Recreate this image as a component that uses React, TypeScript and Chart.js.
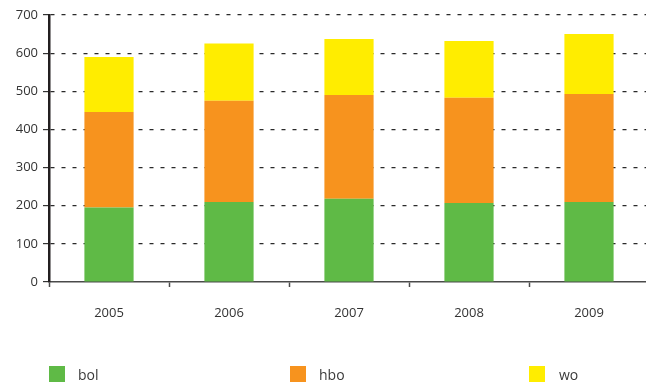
import React, { useEffect, useRef } from "react";
import { Chart, registerables } from "chart.js";

Chart.register(...registerables);

const years = ["2005", "2006", "2007", "2008", "2009"];
const bol = [195, 210, 218, 207, 210];
const hbo = [251, 265, 272, 276, 283];
const wo = [144, 150, 147, 149, 157];
const yTicks = [0, 100, 200, 300, 400, 500, 600, 700];

const seriesNames = ["bol", "hbo", "wo"];
const seriesColors = ["#5fba46", "#f7931e", "#ffed00"];

const FONT = "'Open Sans', 'DejaVu Sans', sans-serif";

export default function App() {
  const ref = useRef<HTMLCanvasElement | null>(null);

  useEffect(() => {
    const canvas = ref.current;
    if (!canvas) return;
    const chart = new Chart(canvas, {
      type: "bar",
      data: {
        labels: years,
        datasets: [bol, hbo, wo].map((d, i) => ({
          label: seriesNames[i],
          data: d,
          backgroundColor: seriesColors[i],
          borderWidth: 0,
          categoryPercentage: 1,
          barPercentage: 0.41,
        })),
      },
      options: {
        animation: false,
        responsive: false,
        devicePixelRatio: 1,
        layout: { padding: { top: 15, right: 0, bottom: 0, left: 0 } },
        plugins: { legend: { display: false }, tooltip: { enabled: false } },
        scales: {
          x: {
            stacked: true,
            afterFit: (s: any) => {
              s.height = 101;
            },
            border: { color: "#4a4a4a", width: 1.5 },
            grid: {
              offset: true,
              drawOnChartArea: false,
              drawTicks: true,
              tickLength: 5,
              tickColor: "#4a4a4a",
              tickWidth: 1.5,
            },
            ticks: {
              padding: 18,
              color: "#333",
              font: { family: FONT, size: 13 },
            },
          },
          y: {
            stacked: true,
            min: 0,
            max: 700,
            afterFit: (s: any) => {
              s.width = 49;
            },
            afterBuildTicks: (s: any) => {
              s.ticks = yTicks.map((v) => ({ value: v }));
            },
            border: { color: "#231f20", width: 2.5, dash: [4, 7] },
            grid: {
              color: (c: any) => (c.tick && c.tick.value === 0 ? "rgba(0,0,0,0)" : "#2a2a2a"),
              lineWidth: 1.2,
              tickBorderDash: [],
              tickColor: "#333",
              tickLength: 6,
              tickWidth: 1.2,
            },
            ticks: {
              padding: 5,
              color: "#333",
              font: { family: FONT, size: 13 },
            },
          },
        },
      },
    });
    return () => chart.destroy();
  }, []);

  const legendX = [49, 290, 529];
  const textX = [78, 319, 559];

  return (
    <div
      style={{
        position: "absolute",
        left: 0,
        top: 0,
        width: 646,
        height: 383,
        overflow: "hidden",
        background: "#fff",
      }}
    >
      <canvas ref={ref} width={649} height={383} style={{ width: 649, height: 383, display: "block" }} />
      {seriesNames.map((n, i) => (
        <React.Fragment key={n}>
          <div
            style={{
              position: "absolute",
              left: legendX[i],
              top: 366,
              width: 16,
              height: 16,
              background: seriesColors[i],
            }}
          />
          <div
            style={{
              position: "absolute",
              left: textX[i],
              top: 368,
              fontFamily: FONT,
              fontSize: 14,
              lineHeight: "14px",
              color: "#3a3a3a",
              whiteSpace: "nowrap",
            }}
          >
            {n}
          </div>
        </React.Fragment>
      ))}
    </div>
  );
}
